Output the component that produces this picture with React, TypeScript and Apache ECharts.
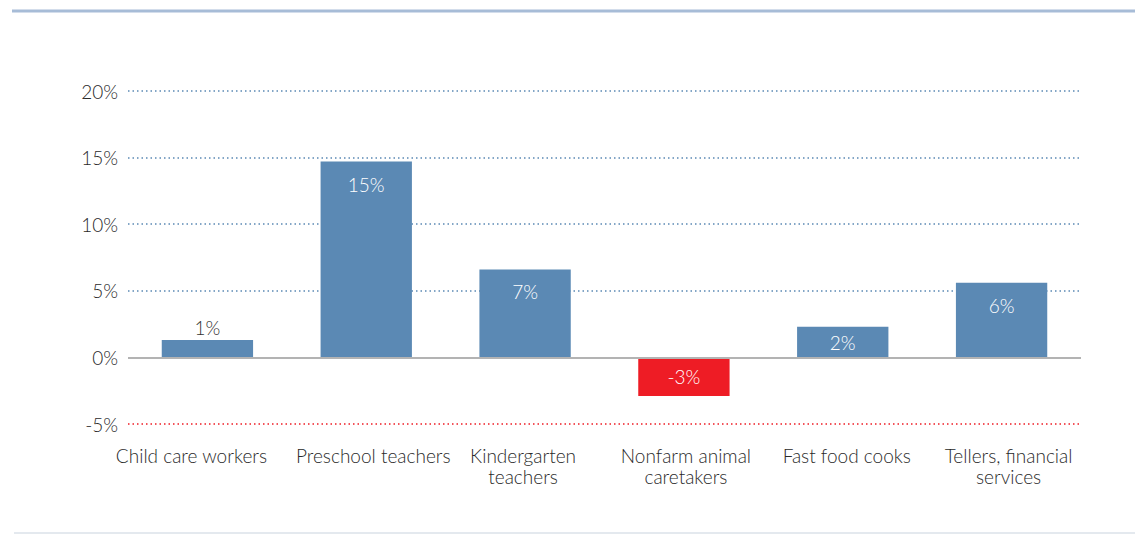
import React, { useEffect, useRef } from "react";
import * as echarts from "echarts";

const categories = [
  "Child care workers",
  "Preschool teachers",
  "Kindergarten\nteachers",
  "Nonfarm animal\ncaretakers",
  "Fast food cooks",
  "Tellers, financial\nservices",
];
const values = [1.3, 14.7, 6.6, -2.9, 2.3, 5.6];
const yTicks = [-5, 0, 5, 10, 15, 20];
// horizontal nudges of the category labels, as seen in the reference
const labelShift = [-16, 7, -2, 2, 4, 7];

const BLUE = "#5b89b4";
const RED = "#ee1c25";
const FONT = "Lato";

export default function App() {
  const ref = useRef<HTMLDivElement>(null);
  useEffect(() => {
    if (!ref.current) return;
    const chart = echarts.init(ref.current, undefined, { renderer: "svg" });
    const data = values.map((v) => {
      const small = v > 0 && v < 2;
      return {
        value: v,
        itemStyle: { color: v < 0 ? RED : BLUE },
        label: small
          ? { position: "top", color: "#333333", distance: 3 }
          : v < 3
          ? { position: "inside", color: "#ffffff" }
          : { position: "insideTop", color: "#ffffff", distance: 13 },
      };
    });
    const catData = categories.map((c, i) => {
      const s = labelShift[i];
      return {
        value: c,
        textStyle: {
          padding: s >= 0 ? [0, 0, 0, 2 * s] : [0, -2 * s, 0, 0],
        },
      };
    });
    chart.setOption({
      animation: false,
      textStyle: { fontFamily: FONT },
      grid: { left: 128, right: 54, top: 91, bottom: 110, containLabel: false },
      xAxis: {
        type: "category",
        data: catData,
        axisLine: { show: false },
        axisTick: { show: false },
        axisLabel: {
          color: "#2a2a2a",
          fontSize: 19,
          fontFamily: FONT,
          fontWeight: 300,
          margin: 21,
          lineHeight: 21,
          interval: 0,
        },
      },
      yAxis: {
        type: "value",
        min: yTicks[0],
        max: yTicks[yTicks.length - 1],
        interval: 5,
        axisLine: { show: false },
        axisTick: { show: false },
        axisLabel: {
          formatter: (v: number) => `${v}%`,
          color: "#2a2a2a",
          fontSize: 19,
          fontFamily: FONT,
          fontWeight: 300,
          margin: 10,
        },
        splitLine: {
          lineStyle: {
            color: yTicks.map((t) => (t < 0 ? RED : t === 0 ? "rgba(0,0,0,0)" : BLUE)),
            type: [1.5, 3],
            width: 1.6,
          },
        },
      },
      graphic: [
        {
          type: "line",
          shape: { x1: 12, y1: 11, x2: 1135, y2: 11 },
          style: { stroke: "#a7bcd7", lineWidth: 3 },
        },
        {
          type: "line",
          shape: { x1: 14, y1: 533, x2: 1135, y2: 533 },
          style: { stroke: "#c9d3de", lineWidth: 1 },
        },
      ],
      series: [
        {
          type: "bar",
          data,
          barWidth: "57.5%",
          label: {
            show: true,
            fontSize: 19,
            fontFamily: FONT,
            fontWeight: 300,
            formatter: (p: any) => `${Math.round(p.value)}%`,
          },
          markLine: {
            silent: true,
            symbol: "none",
            label: { show: false },
            lineStyle: { color: "#b3b3b3", type: "solid", width: 2 },
            data: [{ yAxis: 0 }],
          },
        },
      ],
    });
    return () => chart.dispose();
  }, []);
  return (
    <div
      ref={ref}
      style={{ position: "fixed", left: 0, top: 0, width: 1135, height: 534, background: "#fff" }}
    />
  );
}
